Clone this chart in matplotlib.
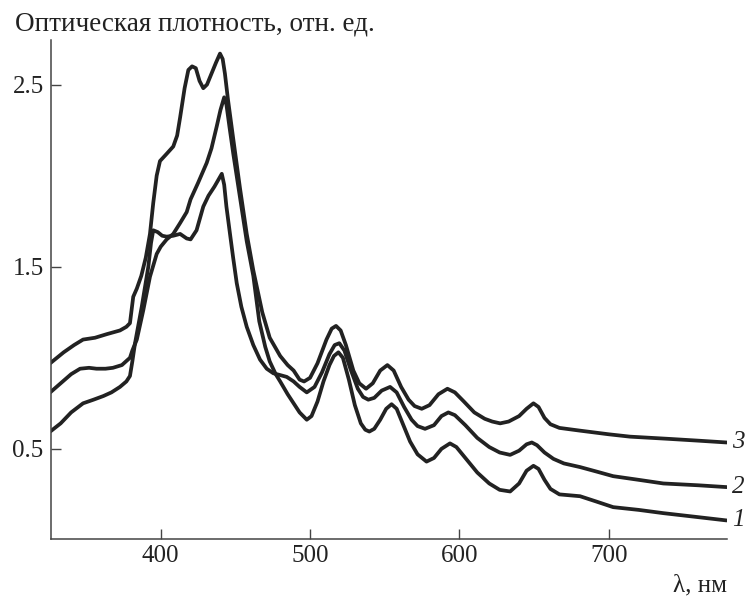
import matplotlib.pyplot as plt

# wavelength (nm) / optical density for curves 1, 2, 3 (label = curve end on the right)
wl1 = [326, 333, 340, 346, 352, 357, 363, 368, 374, 379.4, 381, 384, 388.3, 392.8, 397.3, 400, 404,
       408.4, 413, 417.4, 420, 425, 430.8, 434, 437.5, 440, 442.5, 444, 446, 448.6, 453.1, 457.6,
       462, 466, 470, 473, 477, 480, 485, 489, 493, 497.8, 501, 505, 509, 513, 516,
       519, 522, 526, 530, 534, 537, 539.7, 543, 547, 551, 554.6, 558, 562, 567, 572, 578, 583,
       588, 593.7, 598, 604, 612, 620, 627, 634, 640, 645, 649.6, 653, 657, 661, 667, 680.8, 692,
       703, 720, 736.6, 760, 779]
od1 = [0.81, 0.86, 0.91, 0.94, 0.945, 0.94, 0.94, 0.945, 0.96, 1.00, 1.04, 1.10, 1.26, 1.445, 1.57, 1.61, 1.65,
       1.68, 1.74, 1.80, 1.87, 1.96, 2.07, 2.15, 2.27, 2.36, 2.43, 2.39, 2.27, 2.12, 1.88, 1.64,
       1.45, 1.20, 1.06, 0.98, 0.91, 0.87, 0.80, 0.75, 0.70, 0.66, 0.68, 0.76, 0.87, 0.96, 1.01,
       1.03, 1.00, 0.88, 0.74, 0.64, 0.605, 0.595, 0.61, 0.66, 0.72, 0.745, 0.72, 0.64, 0.54, 0.47, 0.43, 0.45,
       0.50, 0.53, 0.51, 0.45, 0.37, 0.31, 0.275, 0.266, 0.31, 0.38, 0.407, 0.39, 0.33, 0.28, 0.25, 0.24, 0.21,
       0.18, 0.165, 0.147, 0.125, 0.107]

wl2 = [326, 333, 340, 348, 355, 361.6, 367, 372.7, 377, 379.4, 381, 382.8, 387.3, 391.7, 393.5, 395,
       398, 401, 404, 408.4, 413, 417.4, 420, 424, 428.5, 432, 436, 440.9, 442.5, 444, 446.4, 448.5,
       450.9, 454, 457.6, 462, 466.5, 471, 475.4, 480, 484.4, 489, 493, 497.8, 503, 508, 513, 516.5,
       519.6, 523, 527, 532, 535.5, 539, 543, 548, 553.6, 558, 563, 568, 572, 577, 583, 588, 592.6,
       597, 604, 612, 620, 627, 634, 640, 645, 648.5, 652, 657, 663, 670, 680.8, 692, 703, 720,
       736.6, 760, 779]
od2 = [0.595, 0.64, 0.70, 0.75, 0.77, 0.79, 0.81, 0.84, 0.87, 0.90, 0.98, 1.08, 1.28, 1.50, 1.63, 1.70,
       1.69, 1.67, 1.665, 1.67, 1.68, 1.655, 1.65, 1.70, 1.83, 1.89, 1.94, 2.01, 1.95, 1.83, 1.68, 1.55,
       1.41, 1.28, 1.17, 1.07, 0.99, 0.94, 0.915, 0.905, 0.895, 0.87, 0.84, 0.81, 0.84, 0.92, 1.02, 1.07,
       1.08, 1.04, 0.94, 0.83, 0.785, 0.77, 0.78, 0.82, 0.84, 0.81, 0.73, 0.66, 0.625, 0.61, 0.63, 0.68, 0.70,
       0.685, 0.63, 0.56, 0.51, 0.48, 0.467, 0.49, 0.525, 0.535, 0.52, 0.48, 0.445, 0.42, 0.40, 0.375, 0.35, 0.33,
       0.31, 0.30, 0.29]

wl3 = [326, 335, 342, 348, 356, 364, 372.7, 377, 379.4, 381.6, 384, 387, 390, 392.8, 395, 397.3, 399.5,
       404, 408.4, 411, 413, 416, 418.5, 421, 423.5, 426, 428.5, 431, 434, 437, 439.7, 441.5, 443,
       445, 448.6, 453.1, 457.6, 462, 468, 473, 480, 485, 489, 493, 496, 500, 505, 511, 514.5, 517.4,
       520.5, 524, 529, 533, 537.5, 542, 547, 551.8, 556, 561, 566, 570, 574.8, 580, 586, 592, 597,
       603, 610, 617, 622, 627.3, 633, 640, 645, 649.6, 653, 657, 661, 667, 680.8, 700, 714.3, 740,
       760, 779]
od3 = [0.97, 1.03, 1.07, 1.10, 1.11, 1.13, 1.15, 1.17, 1.19, 1.335, 1.38, 1.45, 1.55, 1.68, 1.85, 2.00, 2.08,
       2.12, 2.16, 2.22, 2.32, 2.48, 2.58, 2.60, 2.59, 2.52, 2.48, 2.50, 2.56, 2.62, 2.67, 2.64, 2.56,
       2.42, 2.20, 1.93, 1.68, 1.48, 1.25, 1.11, 1.01, 0.96, 0.93, 0.88, 0.87, 0.89, 0.97, 1.10, 1.16, 1.175,
       1.15, 1.07, 0.93, 0.86, 0.83, 0.86, 0.93, 0.96, 0.93, 0.84, 0.77, 0.735, 0.72, 0.74, 0.80, 0.83, 0.81,
       0.76, 0.70, 0.665, 0.65, 0.64, 0.65, 0.68, 0.72, 0.75, 0.73, 0.67, 0.635, 0.615, 0.60, 0.58, 0.567, 0.555,
       0.545, 0.535]

curves = [("1", wl1, od1), ("2", wl2, od2), ("3", wl3, od3)]
xticks = [400, 500, 600, 700]
yticks = [0.5, 1.5, 2.5]

plt.rcParams['font.family'] = ['Liberation Serif', 'DejaVu Serif']
fs = 18
col = '#222222'

fig = plt.figure(figsize=(7.45, 5.96), dpi=100)
ax = fig.add_axes([0.068, 0.0956, 0.9074, 0.8374])

for name, x, y in curves:
    ax.plot(x, y, color=col, linewidth=2.7, solid_capstyle='round', solid_joinstyle='round')
    ax.annotate(name, xy=(x[-1], y[-1]), xytext=(4, 0), textcoords='offset points',
                ha='left', va='center', fontsize=fs, style='italic', color=col,
                annotation_clip=False)

ax.set_xlim(326.3, 779)
ax.set_ylim(0.005, 2.745)
ax.set_xticks(xticks)
ax.set_yticks(yticks)
ax.set_yticklabels([str(v) for v in yticks])
ax.tick_params(direction='in', length=7, width=1.0, color='#444444', labelsize=fs, labelcolor=col)
ax.tick_params(axis='x', pad=4)
ax.tick_params(axis='y', pad=5)
for s in ['top', 'right']:
    ax.spines[s].set_visible(False)
for s in ['left', 'bottom']:
    ax.spines[s].set_linewidth(1.1)
    ax.spines[s].set_color('#444444')

fig.text(0.02, 0.948, 'Оптическая плотность, отн. ед.', fontsize=19.5, color=col, ha='left', va='baseline')
fig.text(0.9754, 0.007, 'λ, нм', fontsize=fs, color=col, ha='right', va='baseline')

fig.savefig('out.png', dpi=100)
